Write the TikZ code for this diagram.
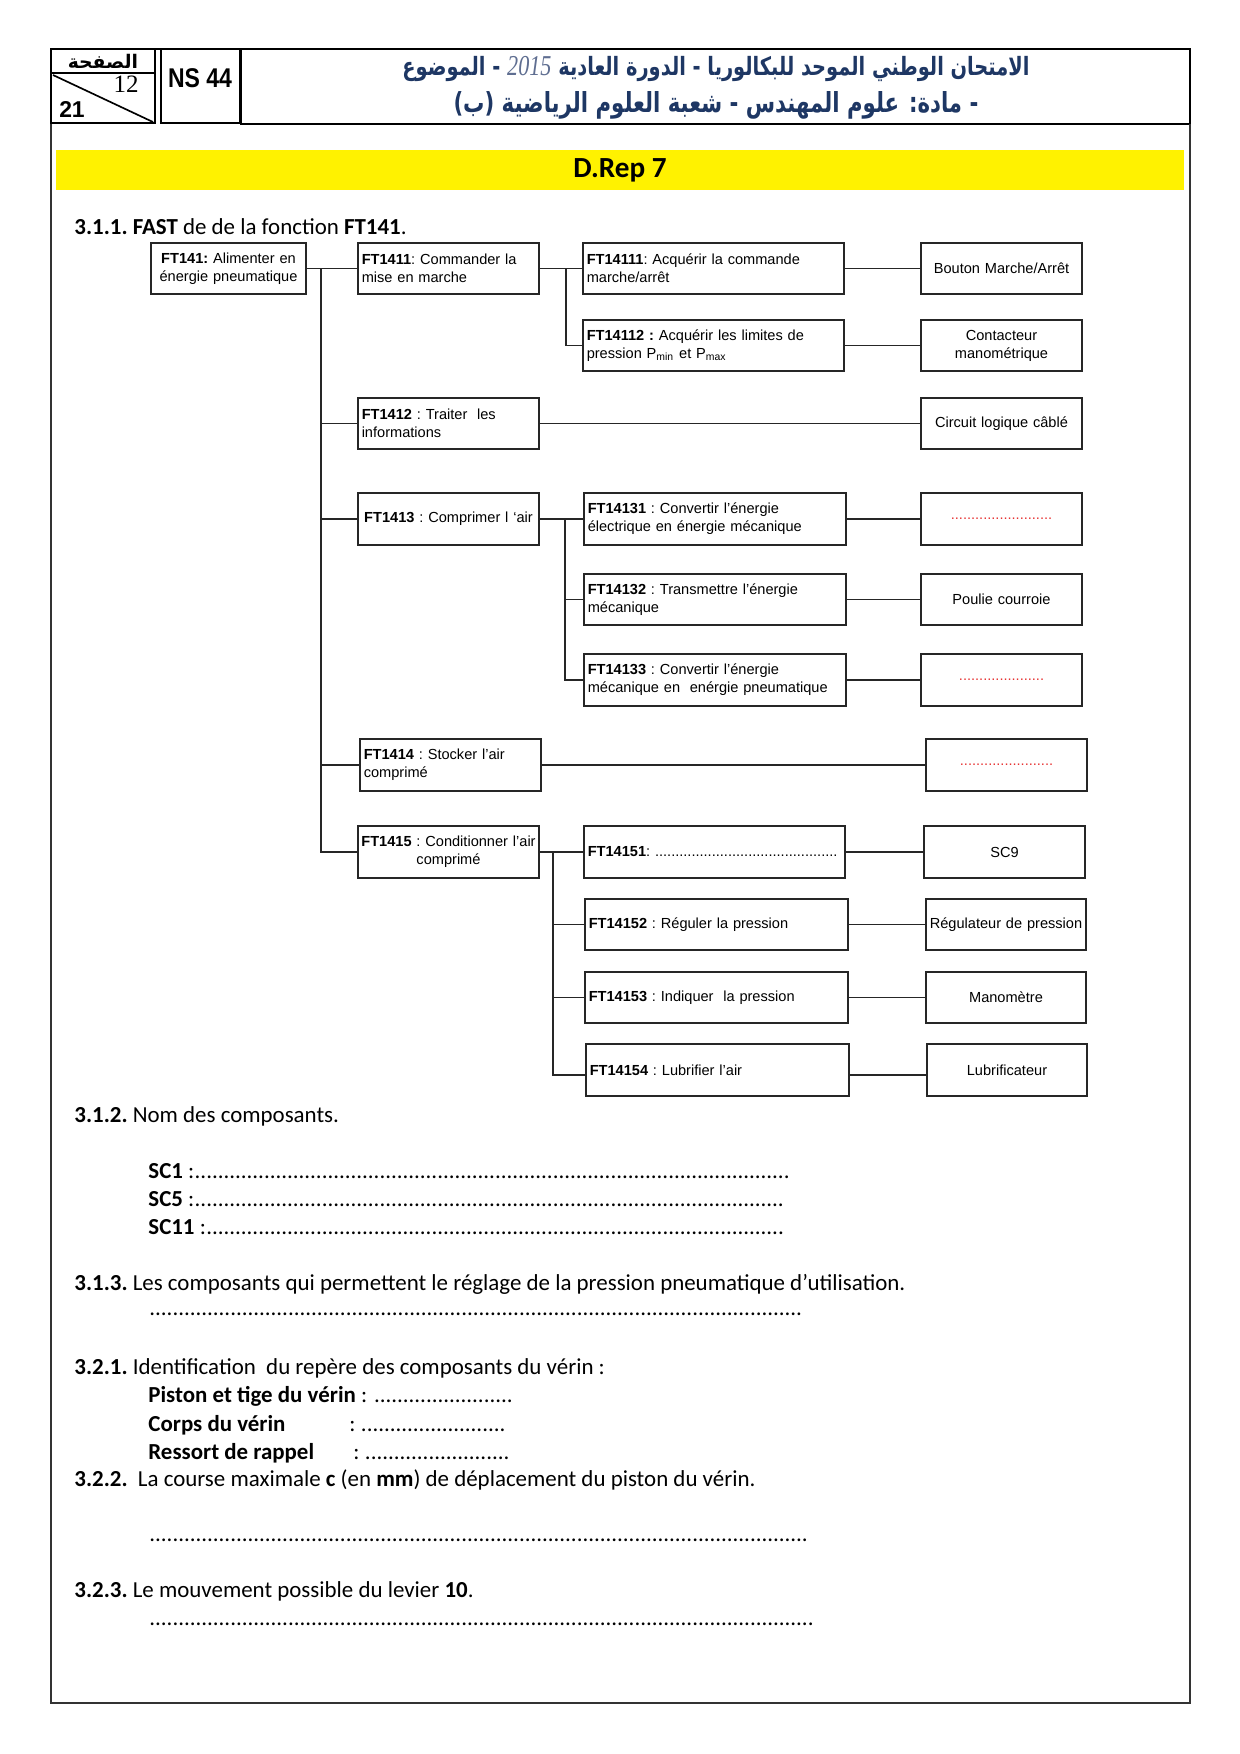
\documentclass[tikz,border=0pt]{standalone}
\usepackage{fontspec}
\setmainfont{Carlito}
\newfontfamily\arialf{Liberation Sans}
\newfontfamily\timesf{Liberation Serif}
\newfontfamily\arabicfont[Script=Arabic]{DejaVu Sans}
\TeXXeTstate=1
\definecolor{hdrblue}{RGB}{30,55,100}
\definecolor{yrgray}{RGB}{95,110,145}
\definecolor{dotred}{RGB}{230,50,50}
\newcommand\fillto[2]{\makebox[#1][l]{#2\leaders\hbox{.}\hfill}}
\newcommand\nohyph{\hyphenpenalty=10000\relax}
\begin{document}
\begin{tikzpicture}[x=0.48pt,y=-0.48pt,
  bx/.style 2 args={minimum width=#1*0.48pt, minimum height=#2*0.48pt, text width=#1*0.48pt-3.6pt},
  fbox/.style={draw=black!85, line width=0.8pt, inner sep=0pt, align=left,
    font=\arialf\fontsize{7}{8.6}\selectfont\frenchspacing\nohyph},
  cbox/.style={fbox, align=center},
  conn/.style={draw=black!85, line width=0.75pt},
  body/.style={anchor=base west, inner sep=0pt, font=\fontsize{11}{13.4}\selectfont\frenchspacing},
  hdr/.style={draw=black, line width=1.4pt}]
\useasboundingbox (0,0) rectangle (1240,1754);

% ---------- header ----------
\draw[hdr] (51,49) rectangle (155,123);
\draw[line width=1.2pt] (51,73) -- (155,73);
\draw[line width=0.8pt] (53,75) -- (153,122);
\draw[line width=0.5pt] (155,49) -- (161,49);
\draw[hdr] (161,49) rectangle (240,123);
\draw[hdr] (241,49) rectangle (1190,124);
\node[inner sep=0pt, font=\arabicfont\bfseries\fontsize{9}{10}\selectfont] (page) at (103,61) {\beginR الصفحة\endR};
\node[inner sep=0pt, font=\timesf\fontsize{12}{12}\selectfont] (pnum) at (126,84) {12};
\node[inner sep=0pt, font=\arialf\bfseries\fontsize{11}{11}\selectfont] (ptot) at (72,109) {21};
\node[inner sep=0pt, font=\arialf\bfseries\fontsize{13}{13}\selectfont] (ns) at (200,78) {\scalebox{0.85}[1]{NS 44}};
\node[inner sep=0pt, text=hdrblue, font=\arabicfont\bfseries\fontsize{10.5}{12}\selectfont] (h1) at (716,69)
  {\scalebox{1}[1.3]{\resizebox{301pt}{!}{\beginR الامتحان الوطني الموحد للبكالوريا - الدورة العادية \beginL{\timesf\itshape\mdseries\fontsize{12}{12}\selectfont\color{yrgray}2015}\endL{} - الموضوع\endR}}};
\node[inner sep=0pt, text=hdrblue, font=\arabicfont\bfseries\fontsize{10.5}{12}\selectfont] (h2) at (716,105)
  {\scalebox{1}[1.3]{\resizebox{252pt}{!}{\beginR - مادة: علوم المهندس - شعبة العلوم الرياضية (ب)\endR}}};

% ---------- page frame ----------
\draw[line width=0.7pt, black!80] (51,124) -- (51,1703) -- (1190,1703) -- (1190,124);

% ---------- title bar ----------
\fill[yellow] (56,150) rectangle (1184,190);
\node[inner sep=0pt, font=\bfseries\fontsize{14}{16}\selectfont] (drep) at (620,170) {D.Rep 7};

\node[body] (s311) at (74,234) {\textbf{3.1.1. FAST} de de la fonction \textbf{FT141}.};

% ---------- FAST diagram ----------
\node[cbox, bx={155}{51}] (ft141) at (228.5,268.5) {\textbf{FT141:} Alimenter en\\énergie pneumatique};
\node[fbox, bx={181}{51}] (ft1411) at (448.5,268.5) {\textbf{FT1411}: Commander la\\mise en marche};
\node[fbox, bx={181}{51}] (ft1412) at (448.5,423.5) {\textbf{FT1412} : Traiter\ \ les\\informations};
\node[cbox, bx={181}{52}] (ft1413) at (448.5,519) {\textbf{FT1413} : Comprimer l ‘air};
\node[fbox, bx={181}{52}] (ft1414) at (450.5,765) {\textbf{FT1414} : Stocker l’air\\comprimé};
\node[cbox, bx={181}{52}, text width=181*0.48pt-2pt] (ft1415) at (448.5,852) {\textbf{FT1415} : Conditionner l’air\\comprimé};

\node[fbox, bx={261}{51}] (ft14111) at (713.5,268.5) {\textbf{FT14111}: Acquérir la commande\\marche/arrêt};
\node[fbox, bx={261}{51}] (ft14112) at (713.5,345.5) {\textbf{FT14112 :} Acquérir les limites de\\pression P\textsubscript{min} et P\textsubscript{max}};
\node[fbox, bx={262}{52}] (ft14131) at (715,519) {\textbf{FT14131} : Convertir l’énergie\\électrique en énergie mécanique};
\node[fbox, bx={262}{51}] (ft14132) at (715,599.5) {\textbf{FT14132} : Transmettre l’énergie\\mécanique};
\node[fbox, bx={262}{52}] (ft14133) at (715,680) {\textbf{FT14133} : Convertir l’énergie\\mécanique en\ \ enérgie pneumatique};
\node[fbox, bx={261}{52}] (ft14151) at (714.5,852) {\textbf{FT14151}: \makebox[88pt][l]{\leaders\hbox{.}\hfill}};
\node[fbox, bx={263}{51}] (ft14152) at (716.5,924.5) {\textbf{FT14152} : Réguler la pression};
\node[fbox, bx={263}{51}] (ft14153) at (716.5,997.5) {\textbf{FT14153} : Indiquer\ \ la pression};
\node[fbox, bx={263}{52}] (ft14154) at (717.5,1070) {\textbf{FT14154} : Lubrifier l’air};

\node[cbox, bx={161}{51}] (bouton) at (1001.5,268.5) {Bouton Marche/Arrêt};
\node[cbox, bx={161}{51}] (contact) at (1001.5,345.5) {Contacteur\\manométrique};
\node[cbox, bx={161}{51}] (circuit) at (1001.5,423.5) {Circuit logique câblé};
\node[cbox, bx={161}{52}] (dots1) at (1001.5,519) {\textcolor{dotred}{.........................}};
\node[cbox, bx={161}{51}] (poulie) at (1001.5,599.5) {Poulie courroie};
\node[cbox, bx={161}{52}] (dots2) at (1001.5,680) {\textcolor{dotred}{.....................}};
\node[cbox, bx={161}{52}] (dots3) at (1006.5,765) {\textcolor{dotred}{.......................}};
\node[cbox, bx={161}{52}] (sc9) at (1004.5,852) {SC9};
\node[cbox, bx={160}{51}] (regul) at (1006,924.5) {Régulateur de pression};
\node[cbox, bx={160}{51}] (mano) at (1006,997.5) {Manomètre};
\node[cbox, bx={160}{52}] (lubri) at (1007,1070) {Lubrificateur};

\coordinate (t1) at (321,268.5);
\coordinate (t2) at (566,268.5);
\coordinate (t3) at (565,519);
\coordinate (t4) at (553,852);

\draw[conn] (ft141.east) -- (ft1411.west);
\draw[conn] (t1) |- (ft1412.west);
\draw[conn] (t1) |- (ft1413.west);
\draw[conn] (t1) |- (ft1414.west);
\draw[conn] (t1) |- (ft1415.west);

\draw[conn] (ft1411.east) -- (ft14111.west);
\draw[conn] (t2) |- (ft14112.west);

\draw[conn] (ft1413.east) -- (ft14131.west);
\draw[conn] (t3) |- (ft14132.west);
\draw[conn] (t3) |- (ft14133.west);

\draw[conn] (ft1415.east) -- (ft14151.west);
\draw[conn] (t4) |- (ft14152.west);
\draw[conn] (t4) |- (ft14153.west);
\draw[conn] (t4) |- ([yshift=-2.5pt]ft14154.west);

\draw[conn] (ft14111.east) -- (bouton.west);
\draw[conn] (ft14112.east) -- (contact.west);
\draw[conn] (ft1412.east) -- (circuit.west);
\draw[conn] (ft14131.east) -- (dots1.west);
\draw[conn] (ft14132.east) -- (poulie.west);
\draw[conn] (ft14133.east) -- (dots2.west);
\draw[conn] (ft1414.east) -- (dots3.west);
\draw[conn] (ft14151.east) -- (sc9.west);
\draw[conn] (ft14152.east) -- (regul.west);
\draw[conn] (ft14153.east) -- (mano.west);
\draw[conn] ([yshift=-2.5pt]ft14154.east) -- ([yshift=-2.5pt]lubri.west);

% ---------- questions ----------
\node[body] (s312) at (74,1122) {\textbf{3.1.2.} Nom des composants.};
\node[body] (sc1) at (148,1178) {\fillto{310pt}{\textbf{SC1} :}};
\node[body] (sc5) at (148,1206) {\fillto{308pt}{\textbf{SC5} :}};
\node[body] (sc11) at (148,1234) {\fillto{306pt}{\textbf{SC11} :}};
\node[body] (s313) at (74,1290) {\textbf{3.1.3.} Les composants qui permettent le réglage de la pression pneumatique d’utilisation.};
\node[body] (d313) at (149,1315) {\fillto{316pt}{}};
\node[body] (s321) at (74,1374) {\textbf{3.2.1.} Identification\ \ du repère des composants du vérin :};
\node[body] (piston) at (148,1402) {\fillto{177pt}{\textbf{Piston et tige du vérin} : }};
\node[body] (corps) at (148,1431) {\textbf{Corps du vérin}};
\node[body] (corpsd) at (349,1431) {\fillto{75pt}{: }};
\node[body] (ressort) at (148,1459) {\textbf{Ressort de rappel}};
\node[body] (ressortd) at (353,1459) {\fillto{77pt}{: }};
\node[body] (s322) at (74,1486) {\textbf{3.2.2.}\ \ La course maximale \textbf{c} (en \textbf{mm}) de déplacement du piston du vérin.};
\node[body] (d322) at (149,1541) {\fillto{318pt}{}};
\node[body] (s323) at (74,1597) {\textbf{3.2.3.} Le mouvement possible du levier \textbf{10}.};
\node[body] (d323) at (149,1625) {\fillto{320pt}{}};
\end{tikzpicture}
\end{document}
